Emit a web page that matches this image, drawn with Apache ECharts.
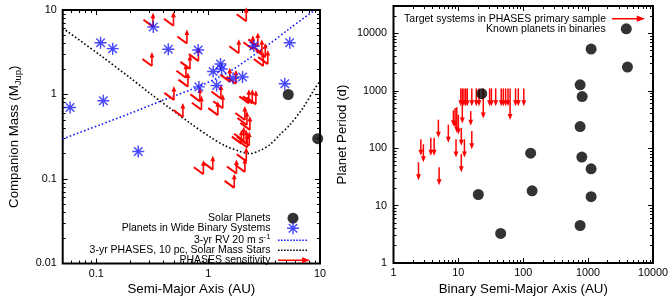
<!DOCTYPE html>
<html><head><meta charset="utf-8">
<script src="https://cdn.jsdelivr.net/npm/echarts@6/dist/echarts.min.js"></script>
<style>html,body{margin:0;padding:0;background:#fff}#c{width:671px;height:301px}</style>
</head><body><div id="c"></div>
<script>
// ---------------- Left panel data ----------------
const leftXRange = [0.05, 10];
const leftYRange = [0.01, 10];
const leftXTicks = [0.1, 1, 10];
const leftYTicks = [0.01, 0.1, 1, 10];
// [semi-major axis AU, mass MJup]
const solarPlanets = [[5.2, 1.0], [9.54, 0.30]];
const binaryPlanets = [
  [0.0582, 0.70], [0.109, 4.1], [0.140, 3.49], [0.1155, 0.845], [0.323, 6.3], [0.44, 3.43],
  [0.814, 3.36], [0.826, 1.23], [1.108, 1.87], [1.29, 2.29], [1.32, 2.0], [1.19, 1.28],
  [1.67, 1.56], [2.03, 1.61], [2.56, 3.74], [5.36, 4.1], [4.84, 1.34], [0.237, 0.212]
];
const rvLimit = [
  [0.05, 0.298], [0.108, 0.438], [0.2, 0.597], [0.397, 0.859], [0.843, 1.26],
  [1.56, 1.88], [3.32, 3.74], [5.36, 6.04], [8.97, 10]
];
const phasesLimit = [
  [0.05, 6.1], [0.108, 2.92], [0.2, 1.58], [0.302, 1.03], [0.455, 0.688], [0.687, 0.46],
  [1.035, 0.316], [1.41, 0.248], [1.92, 0.212], [2.36, 0.2], [2.89, 0.217], [3.56, 0.255],
  [4.37, 0.334], [5.36, 0.436], [7.01, 0.688], [8.97, 1.17], [9.93, 1.42]
];
const phasesSensitivity = [
  [0.321, 6.34], [0.489, 6.51], [2.19, 7.35], [0.314, 2.17], [0.645, 4.02], [0.687, 2.01],
  [0.818, 2.48], [1.88, 3.08], [2.51, 3.43], [2.78, 3.71], [3.02, 3.08], [3.24, 2.77],
  [3.11, 2.17], [3.41, 2.29], [0.659, 1.24], [0.632, 1.58], [1.56, 1.42], [1.77, 1.34],
  [0.494, 0.863], [0.594, 0.541], [0.843, 0.829], [0.870, 0.660], [1.30, 0.898], [1.35, 0.688],
  [1.22, 0.570], [2.31, 0.786], [2.48, 0.786], [2.67, 0.765], [2.13, 0.499], [2.22, 0.436],
  [2.36, 0.381], [2.08, 0.284], [2.19, 0.262], [2.33, 0.249], [1.98, 0.262], [2.24, 0.236],
  [2.19, 0.162], [0.906, 0.114], [1.10, 0.129], [1.79, 0.116], [2.13, 0.121], [1.71, 0.0786]
];

// ---------------- Right panel data ----------------
const rightXRange = [1, 10000];
const rightYRange = [1, 30000];
const rightXTicks = [1, 10, 100, 1000, 10000];
const rightYTicks = [1, 10, 100, 1000, 10000];
// [binary semi-major axis AU, period from (d), period to (d)]
const targetArrows = [
  [10.9, 1100, 540], [11.5, 1100, 270], [12.2, 1100, 540], [13.0, 1100, 540], [13.7, 1100, 540],
  [16.1, 1100, 540], [18.9, 1100, 540], [20.8, 1100, 540], [24.2, 1100, 330], [30.3, 1100, 540],
  [32.3, 1100, 540], [37.6, 1100, 540], [45.8, 1100, 540], [49.3, 1100, 540], [53.5, 1100, 540],
  [58.2, 1100, 540], [62.7, 1100, 310], [76.1, 1100, 540], [83.9, 1100, 540], [102, 1100, 540],
  [8.38, 456, 242], [8.9, 499, 226], [9.45, 519, 186], [10.0, 383, 174], [15.5, 443, 245],
  [16.1, 199, 96], [4.92, 314, 152], [7.0, 257, 125], [11.1, 226, 110], [12.4, 143, 69],
  [9.2, 143, 69], [11.1, 79, 38], [2.64, 143, 74], [2.89, 117, 57], [3.76, 152, 74],
  [4.23, 152, 74], [2.43, 57, 27.6], [5.05, 46.7, 22.6]
];
const knownPlanets = [
  [22.9, 890], [1112, 5330], [4040, 2590], [753, 1270], [809, 792], [753, 238], [130, 82],
  [800, 70], [1112, 43.7], [20.3, 15.6], [137, 18.1], [1112, 14.3], [753, 4.5], [44.9, 3.27]
];

// ---------------- helpers ----------------
const FONT = 'Liberation Sans, Arial, Helvetica, sans-serif';
const RED = '#ff0000', BLUE = '#1a1aff', BLACK = '#000000';
const L10 = Math.log10;
const logPts = arr => arr.map(r => r.map(L10));
function minorTicks(r) {
  const out = [];
  const e0 = Math.floor(L10(r[0])), e1 = Math.ceil(L10(r[1]));
  for (let e = e0; e <= e1; e++) for (let k = 2; k <= 9; k++) {
    const v = k * Math.pow(10, e);
    if (v > r[0] * 1.0001 && v < r[1] * 0.9999) out.push(L10(v));
  }
  return out;
}
const fmt = v => String(parseFloat(Math.pow(10, v).toPrecision(4)));
function tickAxis(grid, pos, range, vals, len, margin) {
  return {
    type: 'value', gridIndex: grid, position: pos, min: L10(range[0]), max: L10(range[1]),
    axisLine: { show: false, onZero: false }, splitLine: { show: false }, silent: true,
    axisTick: { show: true, inside: true, length: len, customValues: vals, lineStyle: { color: BLACK, width: 1 } },
    axisLabel: margin != null ? { show: true, customValues: vals, formatter: fmt, color: BLACK,
      fontSize: 10.8, fontFamily: FONT, margin: margin } : { show: false },
    axisPointer: { show: false }
  };
}
function axisSet(grid, posA, posB, range, ticks, margin) {
  const maj = ticks.map(L10), mn = minorTicks(range);
  return [
    tickAxis(grid, posA, range, maj, 5, margin),
    tickAxis(grid, posA, range, mn, 3, null),
    tickAxis(grid, posB, range, maj, 5, null),
    tickAxis(grid, posB, range, mn, 3, null)
  ];
}
const nameStyle = { fontSize: 13.3, fontFamily: FONT, color: BLACK };

const xAxes = [].concat(
  axisSet(0, 'bottom', 'top', leftXRange, leftXTicks, 5),
  axisSet(1, 'bottom', 'top', rightXRange, rightXTicks, 4.5)
);
const yAxes = [].concat(
  axisSet(0, 'left', 'right', leftYRange, leftYTicks, 6),
  axisSet(1, 'left', 'right', rightYRange, rightYTicks, 6.5)
);
Object.assign(xAxes[0], { name: 'Semi-Major Axis (AU)', nameLocation: 'middle', nameGap: 19.5, nameTextStyle: nameStyle, nameMoveOverlap: false });
Object.assign(xAxes[4], { name: 'Binary Semi-Major Axis (AU)', nameLocation: 'middle', nameGap: 20, nameTextStyle: nameStyle, nameMoveOverlap: false });
Object.assign(yAxes[0], { name: 'Companion Mass (M{sub|Jup})', nameLocation: 'middle', nameRotate: 90, nameGap: 39, nameMoveOverlap: false,
  nameTextStyle: Object.assign({}, nameStyle, { lineHeight: 18,
    rich: { sub: { fontSize: 9.5, lineHeight: 10, verticalAlign: 'bottom', fontFamily: FONT, color: BLACK } } }) });
Object.assign(yAxes[4], { name: 'Planet Period (d)', nameLocation: 'middle', nameRotate: 90, nameGap: 45, nameMoveOverlap: false, nameTextStyle: nameStyle });

// icons
const ASTER = 'path://M0,44L100,44L100,56L0,56Z M44,0L56,0L56,100L44,100Z ' +
  'M18.8,10.4L89.6,81.2L81.2,89.6L10.4,18.8Z M81.2,10.4L89.6,18.8L18.8,89.6L10.4,81.2Z';
let dots = 'path://';
for (let i = 0; i < 10; i++) { const x = i * 3.1; dots += 'M' + x + ',0h1.6v1.6h-1.6z '; }
const ARROW = 'path://M0,2.3L24,2.3L24,0L32,3L24,6L24,3.7L0,3.7Z';

const RV_NAME = '3-yr RV 20 m s-1';
const PH_NAME = '3-yr PHASES, 10 pc, Solar Mass Stars';

// right: distance from chart right edge to the right edge of the visible icon
function legendItem(right, cy, w, h, name, icon, gapPad, formatter) {
  const l = {
    right: right, top: cy - h / 2, itemWidth: w, itemHeight: h, align: 'right', padding: 0,
    selectedMode: false, orient: 'horizontal',
    data: [{ name: name, icon: icon }],
    textStyle: { color: BLACK, fontSize: 10.5, fontFamily: FONT, lineHeight: 14, padding: [0, gapPad, 0, 0],
      rich: { i: { fontStyle: 'italic', fontSize: 10.5, fontFamily: FONT, color: BLACK, lineHeight: 14 },
              sup: { fontSize: 7.5, lineHeight: 8, verticalAlign: 'top', fontFamily: FONT, color: BLACK } } }
  };
  if (formatter) l.formatter = formatter;
  return l;
}

function sensMark(params, api) {
  const p = api.coord([api.value(0), api.value(1)]);
  const x = p[0], y = p[1];
  return { type: 'group', children: [
    { type: 'line', shape: { x1: x - 9.5, y1: y - 7, x2: x, y2: y }, style: { stroke: RED, lineWidth: 2 } },
    { type: 'line', shape: { x1: x, y1: y, x2: x, y2: y - 9 }, style: { stroke: RED, lineWidth: 1.6 } },
    { type: 'polygon', shape: { points: [[x - 2.4, y - 8.5], [x, y - 14], [x + 2.4, y - 8.5]] }, style: { fill: RED } }
  ] };
}
function downArrow(params, api) {
  const t = api.coord([api.value(0), api.value(1)]);
  const b = api.coord([api.value(0), api.value(2)]);
  return { type: 'group', children: [
    { type: 'line', shape: { x1: t[0], y1: t[1], x2: b[0], y2: b[1] - 5 }, style: { stroke: RED, lineWidth: 1.5 } },
    { type: 'polygon', shape: { points: [[b[0] - 2.4, b[1] - 6], [b[0] + 2.4, b[1] - 6], [b[0], b[1]]] }, style: { fill: RED } }
  ] };
}

const option = {
  animation: false,
  backgroundColor: '#ffffff',
  grid: [
    { left: 62.7, top: 10, width: 257.3, height: 258, show: true, borderColor: BLACK, borderWidth: 2, backgroundColor: 'rgba(0,0,0,0)' },
    { left: 393.5, top: 6, width: 260.5, height: 261.3, show: true, borderColor: BLACK, borderWidth: 2, backgroundColor: 'rgba(0,0,0,0)' }
  ],
  xAxis: xAxes,
  yAxis: yAxes,
  legend: [
    legendItem(671 - (293 + 5.5), 216.7, 30, 11, 'Solar Planets', 'circle', 2.5),
    legendItem(671 - (293 + 6), 227.3, 30, 12, 'Planets in Wide Binary Systems', ASTER, 2.5),
    legendItem(364, 238.3, 29, 10, RV_NAME, dots, 2.5, () => '3-yr RV 20 m {i|s}{sup|-1}'),
    legendItem(364, 248.3, 29, 10, PH_NAME, dots, 2.5),
    legendItem(361, 258.3, 32, 10, 'PHASES sensitivity', ARROW, 2.5),
    legendItem(26, 16.7, 33, 10, 'Target systems in PHASES primary sample', ARROW, 1),
    legendItem(671 - (626.3 + 5.5), 27.3, 29.2, 11, 'Known planets in binaries', 'circle', 1)
  ],
  series: [
    { name: RV_NAME, type: 'line', xAxisIndex: 0, yAxisIndex: 0, data: logPts(rvLimit), symbol: 'none', showSymbol: false,
      smooth: 0.3, lineStyle: { color: BLUE, width: 1.6, type: [1.6, 2.2] }, itemStyle: { color: BLUE }, z: 2 },
    { name: PH_NAME, type: 'line', xAxisIndex: 0, yAxisIndex: 0, data: logPts(phasesLimit), symbol: 'none', showSymbol: false,
      smooth: 0.3, lineStyle: { color: BLACK, width: 1.6, type: [1.6, 2.2] }, itemStyle: { color: BLACK }, z: 2 },
    { name: 'PHASES sensitivity', type: 'custom', xAxisIndex: 0, yAxisIndex: 0, data: logPts(phasesSensitivity),
      renderItem: sensMark, itemStyle: { color: RED }, encode: { x: 0, y: 1 }, z: 3 },
    { name: 'Planets in Wide Binary Systems', type: 'scatter', xAxisIndex: 0, yAxisIndex: 0, data: logPts(binaryPlanets),
      symbol: ASTER, symbolSize: 12, itemStyle: { color: BLUE }, z: 4 },
    { name: 'Solar Planets', type: 'scatter', xAxisIndex: 0, yAxisIndex: 0, data: logPts(solarPlanets),
      symbol: 'circle', symbolSize: 11, itemStyle: { color: BLACK }, clip: false, z: 5 },
    { name: 'Target systems in PHASES primary sample', type: 'custom', xAxisIndex: 4, yAxisIndex: 4, data: logPts(targetArrows),
      renderItem: downArrow, itemStyle: { color: RED }, encode: { x: 0, y: [1, 2] }, z: 3 },
    { name: 'Known planets in binaries', type: 'scatter', xAxisIndex: 4, yAxisIndex: 4, data: logPts(knownPlanets),
      symbol: 'circle', symbolSize: 11, itemStyle: { color: BLACK }, z: 5 }
  ]
};
const chart = echarts.init(document.getElementById('c'), null, { renderer: 'canvas' });
chart.setOption(option);
</script></body></html>
